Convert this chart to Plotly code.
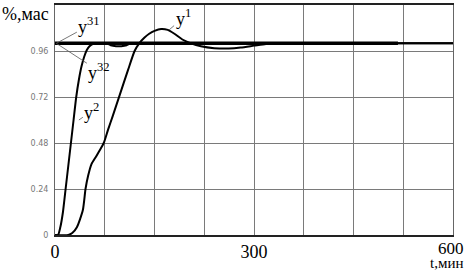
import plotly.graph_objects as go

# ---- data ----
t_ref = [0, 517]
y_ref = [1.0, 1.0]

t_y2 = [0, 4.5, 8, 12, 16, 20, 24, 28, 32, 36, 40, 44, 48, 52, 56, 62, 78, 84, 92, 100, 108, 114, 130, 600]
y2 = [0, 0, 0.04, 0.12, 0.24, 0.36, 0.48, 0.60, 0.72, 0.81, 0.88, 0.93, 0.965, 0.985, 0.995, 1.0, 1.0, 0.99, 0.985, 0.985, 0.99, 1.0, 1.0, 1.0]

t_y1 = [0, 20, 26, 33, 42, 46, 50, 55, 62, 67, 73.5, 80, 87, 97.5, 110, 120, 127, 135, 142, 150, 160, 170, 180, 192, 205, 220, 240, 262, 280, 300, 318, 340, 600]
y1 = [0, 0, 0.01, 0.04, 0.13, 0.24, 0.31, 0.37, 0.41, 0.44, 0.48, 0.55, 0.62, 0.73, 0.86, 0.96, 1.0, 1.03, 1.05, 1.065, 1.075, 1.07, 1.05, 1.02, 1.0, 0.985, 0.975, 0.973, 0.978, 0.988, 0.997, 1.0, 1.0]

x_grid = [0, 75, 150, 225, 300, 375, 450, 525, 600]
x_text = ["0", "", "", "", "300", "", "", "", ""]
y_ticks = [0, 0.24, 0.48, 0.72, 0.96]
y_text = ["0", "0.24", "0.48", "0.72", "0.96"]

SERIF = "Liberation Serif"

fig = go.Figure()
fig.add_trace(go.Scatter(x=t_y2, y=y2, mode="lines", line=dict(color="black", width=2, shape="spline", smoothing=0.6)))
fig.add_trace(go.Scatter(x=t_y1, y=y1, mode="lines", line=dict(color="black", width=2, shape="spline", smoothing=0.6)))
fig.add_trace(go.Scatter(x=t_ref, y=y_ref, mode="lines", line=dict(color="black", width=3.5)))

fig.update_layout(
    width=465, height=273,
    margin=dict(l=55, r=12, t=3, b=38),
    paper_bgcolor="white", plot_bgcolor="white",
    showlegend=False,
    xaxis=dict(range=[0, 600], tickvals=x_grid, ticktext=x_text, showgrid=True,
               gridcolor="#7a7a7a", gridwidth=1, zeroline=False,
               showline=True, linecolor="#222", linewidth=1.5, mirror=True,
               ticks="", tickfont=dict(family=SERIF, size=18, color="black")),
    yaxis=dict(range=[0, 1.2], tickvals=y_ticks, ticktext=y_text, showgrid=True,
               gridcolor="#7a7a7a", gridwidth=1, zeroline=False,
               showline=True, linecolor="#666", linewidth=1, mirror=True,
               ticks="", ticklabelstandoff=4,
               tickfont=dict(family="DejaVu Sans", size=8, color="#777")),
)

ann = dict(showarrow=False, font=dict(family=SERIF, size=18, color="black"))
fig.add_annotation(text="%,мас", xref="paper", yref="paper", x=-55/398, y=1.0 + 3/232,
                   xanchor="left", yanchor="top", **ann)
fig.add_annotation(text="600", xref="x", yref="paper", x=600, y=-3/232,
                   xanchor="right", yanchor="top", xshift=12, borderpad=0,
                   showarrow=False, font=dict(family=SERIF, size=17, color="black"))
fig.add_annotation(text="t,мин", xref="x", yref="paper", x=600, y=-19/232,
                   xanchor="right", yanchor="top", xshift=11, borderpad=0,
                   showarrow=False, font=dict(family=SERIF, size=15, color="black"))

lab = dict(showarrow=True, arrowhead=0, arrowwidth=0.8, arrowcolor="#555",
           font=dict(family=SERIF, size=18, color="black"), axref="pixel", ayref="pixel")
fig.add_annotation(text="y<sup>31</sup>", x=2, y=1.0, ax=33, ay=-18, **lab)
fig.add_annotation(text="y<sup>32</sup>", x=2, y=1.0, ax=43, ay=28, **lab)
fig.add_annotation(text="y<sup>1</sup>", x=172, y=1.07, ax=14, ay=-12, **lab)
fig.add_annotation(text="y<sup>2</sup>", x=36, y=0.6, ax=13, ay=-9, **lab)

fig.write_html("out.html", config={"displayModeBar": False},
               post_script="document.body.style.margin='0';document.body.style.overflow='hidden';")
